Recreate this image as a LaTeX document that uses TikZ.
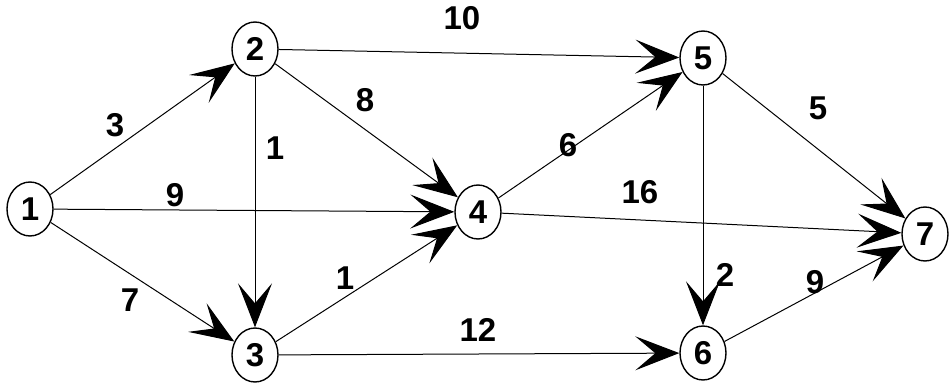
\documentclass[tikz,border=0pt]{standalone}
\usepackage{fontspec}
\setmainfont{Liberation Sans}
\usetikzlibrary{arrows.meta,shapes.geometric}

\begin{document}
\begin{tikzpicture}[x=0.5pt, y=-0.5pt,
    >={Stealth[length=22pt, width=17pt, inset=10pt]},
    vertex/.style={draw, ellipse, line width=0.7pt, minimum width=23pt,
        minimum height=27pt, inner sep=0pt,
        font=\fontsize{16.5}{18}\selectfont\bfseries},
    wt/.style={font=\fontsize{16.5}{18}\selectfont\bfseries},
    edge/.style={->, line width=0.5pt}]
\useasboundingbox (0,0) rectangle (950,385);
\node[vertex] (n1) at (30,209) {1};
\node[vertex] (n2) at (255,49) {2};
\node[vertex] (n3) at (255,355) {3};
\node[vertex] (n4) at (478,212) {4};
\node[vertex] (n5) at (703,58) {5};
\node[vertex] (n6) at (703,353) {6};
\node[vertex] (n7) at (925,234) {7};
% edges with weights
\foreach \a/\b/\w/\lx/\ly in {1/2/3/115/125, 1/4/9/175/195, 1/3/7/130/300,
    2/3/1/275/148, 2/4/8/365/100, 2/5/10/462/18, 3/4/1/345/278,
    3/6/12/478/330, 4/5/6/568/145, 4/7/16/640/192, 5/7/5/818/108,
    5/6/2/725/275, 6/7/9/815/282}{
    \draw[edge] (n\a) -- (n\b);
    \node[wt] (w\a\b) at (\lx,\ly) {\w};
}
\end{tikzpicture}
\end{document}
